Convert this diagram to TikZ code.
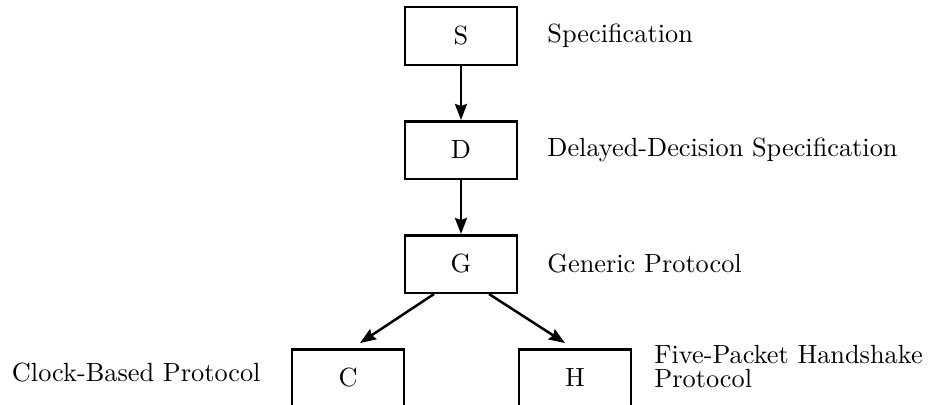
\documentclass[tikz,border=0pt]{standalone}
\usepackage{fontspec}
\newfontfamily\lmten{lmroman10-regular.otf}
\usepackage{tikz}
\usetikzlibrary{arrows.meta,positioning}

\begin{document}
\begin{tikzpicture}[
  x=1pt, y=1pt,
  node distance=54pt and 29pt,
  box/.style={draw, line width=2.5pt, minimum width=112pt, minimum height=57.5pt, font=\lmten\fontsize{26.3}{24}\selectfont},
  lbl/.style={inner sep=0pt, align=left, font=\lmten\fontsize{26.3}{24}\selectfont},
  arr/.style={-{Stealth[length=16pt, width=12pt, inset=2pt]}, line width=2.5pt}
]
  \useasboundingbox (0,0) rectangle (933,-404);
  \node[box] (S) at (461,-36) {S};
  \node[box, below=of S] (D) {D};
  \node[box, below=of D] (G) {G};
  \node[box, below=of G, xshift=-113pt] (C) {C};
  \node[box, below=of G, xshift=114pt] (H) {H};
  \node[lbl, right=of S] (specS) {Specification};
  \node[lbl, right=of D] (specD) {Delayed-Decision Specification};
  \node[lbl, right=of G] (protG) {Generic Protocol};
  \node[lbl, left=30pt of C, yshift=5.5pt] (protC) {Clock-Based Protocol};
  \node[lbl, right=22pt of H, yshift=11pt] (protH) {Five-Packet Handshake\\Protocol};
  \draw[arr] (S) -- (D);
  \draw[arr] (D) -- (G);
  \draw[arr] ([xshift=-27pt]G.south) -- ([xshift=12pt, yshift=5pt]C.north);
  \draw[arr] ([xshift=28pt]G.south) -- ([xshift=-10pt, yshift=5pt]H.north);
\end{tikzpicture}
\end{document}
